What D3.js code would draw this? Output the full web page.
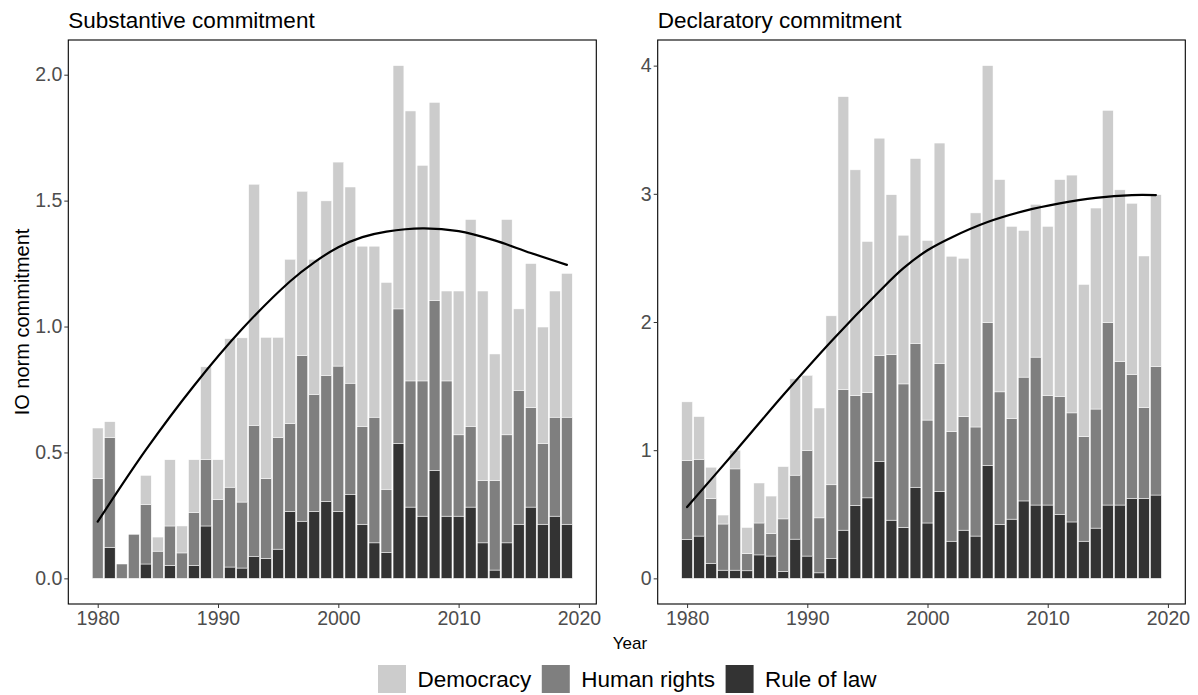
<!DOCTYPE html>
<html>
<head>
<meta charset="utf-8">
<script src="https://cdn.jsdelivr.net/npm/d3@7"></script>
<style>
  html, body { margin: 0; padding: 0; background: #fff; }
  svg { display: block; font-family: "Liberation Sans", Arial, sans-serif; }
</style>
</head>
<body>
<svg id="chart" width="1198" height="695"></svg>
<script>
// Years covered by both panels
const years = [1980,1981,1982,1983,1984,1985,1986,1987,1988,1989,
               1990,1991,1992,1993,1994,1995,1996,1997,1998,1999,
               2000,2001,2002,2003,2004,2005,2006,2007,2008,2009,
               2010,2011,2012,2013,2014,2015,2016,2017,2018,2019];

// Norm categories, bottom to top of each stack
const seriesNames = ["Rule of law", "Human rights", "Democracy"];
const seriesColors = ["#333333", "#7f7f7f", "#cccccc"];
const legendOrder = ["Democracy", "Human rights", "Rule of law"];

// Substantive commitment
const subRuleOfLaw = [0, .123, 0, 0, .057, 0, .051, 0, .051, .208,
                      0, .045, .041, .086, .079, .116, .266, .227, .266, .306,
                      .266, .332, .215, .141, .102, .536, .283, .247, .428, .247,
                      .247, .283, .141, .033, .141, .215, .283, .215, .247, .215];
const subHumanRights = [.396, .437, .057, .175, .237, .108, .157, .101, .211, .263,
                        .313, .317, .262, .522, .317, .444, .348, .657, .465, .500,
                        .577, .443, .389, .499, .252, .534, .501, .537, .676, .537,
                        .323, .321, .248, .356, .429, .532, .395, .321, .393, .425];
const subDemocracy = [.201, .062, 0, 0, .115, .056, .263, .107, .209, .369,
                      .158, .590, .652, .957, .561, .397, .653, .653, .536, .693,
                      .810, .779, .715, .679, .821, .966, 1.072, .856, .786, .357,
                      .571, .821, .752, .502, .855, .323, .572, .462, .501, .571];
// Smoothed trend of the yearly totals
const subTrendYears = [1980, 1984, 1988, 1992, 1996, 1998, 2000, 2002, 2004,
                       2007, 2010, 2013, 2016, 2019];
const subTrendValues = [0.225, 0.51, 0.765, 0.99, 1.18, 1.255, 1.315, 1.355, 1.377,
                        1.39, 1.379, 1.342, 1.292, 1.245];

// Declaratory commitment
const decRuleOfLaw = [.303, .330, .118, .064, .064, .059, .183, .174, .054, .306,
                      .174, .043, .153, .376, .569, .628, .910, .454, .397, .711,
                      .432, .679, .290, .376, .330, .881, .419, .462, .604, .572,
                      .572, .497, .440, .290, .392, .572, .572, .623, .623, .650];
const decHumanRights = [.615, .599, .505, .360, .790, .134, .249, .175, .410, .499,
                        .825, .429, .577, 1.098, .857, .822, .827, 1.291, 1.120, 1.123,
                        .803, .999, .856, .886, .851, 1.114, 1.036, .786, .966, 1.154,
                        .856, .923, .851, .816, .929, 1.423, 1.119, .969, .709, 1.001];
const decDemocracy = [.459, .333, .244, .070, .145, .204, .312, .293, .408, .752,
                      .585, .857, 1.318, 2.284, 1.761, 1.178, 1.697, 1.248, 1.160, 1.441,
                      1.401, 1.718, 1.367, 1.235, 1.670, 2.005, 1.656, 1.498, 1.144, 1.192,
                      1.318, 1.691, 1.855, 1.187, 1.568, 1.656, 1.340, 1.334, 1.183, 1.342];
const decTrendYears = [1980, 1984, 1988, 1992, 1996, 1998, 2000, 2002, 2005,
                       2008, 2011, 2014, 2017, 2019];
const decTrendValues = [0.556, 0.99, 1.43, 1.85, 2.24, 2.42, 2.56, 2.66, 2.78,
                        2.865, 2.925, 2.968, 2.99, 2.99];

// Axis ticks
const xTicks = [1980, 1990, 2000, 2010, 2020];
const subYTicks = [0, 0.5, 1.0, 1.5, 2.0];
const decYTicks = [0, 1, 2, 3, 4];

const FONT = "'Liberation Sans', Arial, sans-serif";
const svg = d3.select("#chart");

function drawPanel(opts) {
  const { left, right, top, bottom, title, series, trendYears, trendValues, yTicks, yFormat } = opts;
  const rows = years.map((yr, i) => {
    const r = { year: yr };
    seriesNames.forEach((s, k) => r[s] = series[k][i]);
    return r;
  });
  const totals = rows.map(r => seriesNames.reduce((a, s) => a + r[s], 0));
  const yMax = d3.max(totals);

  // Bars of width 0.9 with 5% padding on each side of the data range
  const span = (2019.45 - 1979.55);
  const x = d3.scaleLinear()
    .domain([1979.55 - 0.05 * span, 2019.45 + 0.05 * span])
    .range([left, right]);
  const y = d3.scaleLinear()
    .domain([-0.05 * yMax, yMax * 1.05])
    .range([bottom, top]);

  const stack = d3.stack().keys(seriesNames)(rows);
  const bw = (x(1) - x(0)) * 0.9;

  const g = svg.append("g");

  g.selectAll("g.layer")
    .data(stack)
    .join("g")
      .attr("class", "layer")
      .attr("fill", (d, i) => seriesColors[i])
    .selectAll("rect")
    .data(d => d.filter(v => v[1] - v[0] > 0))
    .join("rect")
      .attr("x", d => x(d.data.year) - bw / 2)
      .attr("width", bw)
      .attr("y", d => y(d[1]))
      .attr("height", d => y(d[0]) - y(d[1]))
      .attr("stroke", "#ffffff")
      .attr("stroke-width", 0.5);

  // Trend line
  const trend = trendYears.map((yr, i) => [yr, trendValues[i]]);
  g.append("path")
    .datum(trend)
    .attr("fill", "none")
    .attr("stroke", "#000")
    .attr("stroke-width", 2.2)
    .attr("stroke-linecap", "round")
    .attr("d", d3.line().x(d => x(d[0])).y(d => y(d[1])).curve(d3.curveCatmullRom.alpha(0.5)));

  // Panel border
  g.append("rect")
    .attr("x", left).attr("y", top)
    .attr("width", right - left).attr("height", bottom - top)
    .attr("fill", "none").attr("stroke", "#000").attr("stroke-width", 1.1);

  // Axes
  const xAxis = g.append("g")
    .attr("transform", `translate(0,${bottom})`)
    .call(d3.axisBottom(x).tickValues(xTicks).tickFormat(d3.format("d")).tickSizeOuter(0).tickSize(4).tickPadding(3));
  const yAxis = g.append("g")
    .attr("transform", `translate(${left},0)`)
    .call(d3.axisLeft(y).tickValues(yTicks).tickFormat(yFormat).tickSizeOuter(0).tickSize(4).tickPadding(2));
  [xAxis, yAxis].forEach(a => {
    a.select(".domain").remove();
    a.selectAll(".tick line").attr("stroke", "#333333").attr("stroke-width", 1);
    a.selectAll(".tick text").attr("fill", "#4d4d4d").attr("font-size", 19.5)
      .attr("font-family", FONT);
  });

  g.append("text")
    .attr("x", left).attr("y", 28)
    .attr("font-size", 22.5).attr("fill", "#000")
    .text(title);
}

drawPanel({
  left: 68.3, right: 596.3, top: 40, bottom: 604,
  title: "Substantive commitment",
  series: [subRuleOfLaw, subHumanRights, subDemocracy],
  trendYears: subTrendYears, trendValues: subTrendValues,
  yTicks: subYTicks, yFormat: d3.format(".1f")
});

drawPanel({
  left: 657.7, right: 1185.3, top: 40, bottom: 604,
  title: "Declaratory commitment",
  series: [decRuleOfLaw, decHumanRights, decDemocracy],
  trendYears: decTrendYears, trendValues: decTrendValues,
  yTicks: decYTicks, yFormat: d3.format("d")
});

// Axis titles
svg.append("text")
  .attr("transform", "translate(29,322) rotate(-90)")
  .attr("text-anchor", "middle")
  .attr("font-size", 20).attr("fill", "#000")
  .text("IO norm commitment");

svg.append("text")
  .attr("x", 630).attr("y", 649)
  .attr("text-anchor", "middle")
  .attr("font-size", 17).attr("fill", "#000")
  .text("Year");

// Legend
const legendItems = legendOrder.map(name => ({ name, color: seriesColors[seriesNames.indexOf(name)] }));
const legend = svg.append("g").attr("transform", "translate(0,665)");
let lx = 378;
legendItems.forEach(item => {
  legend.append("rect")
    .attr("x", lx).attr("y", 0).attr("width", 28).attr("height", 28)
    .attr("fill", item.color);
  const t = legend.append("text")
    .attr("x", lx + 39.5).attr("y", 22)
    .attr("font-size", 22.5).attr("fill", "#000")
    .text(item.name);
  lx += 39.5 + t.node().getComputedTextLength() + 10.5;
});
</script>
</body>
</html>
